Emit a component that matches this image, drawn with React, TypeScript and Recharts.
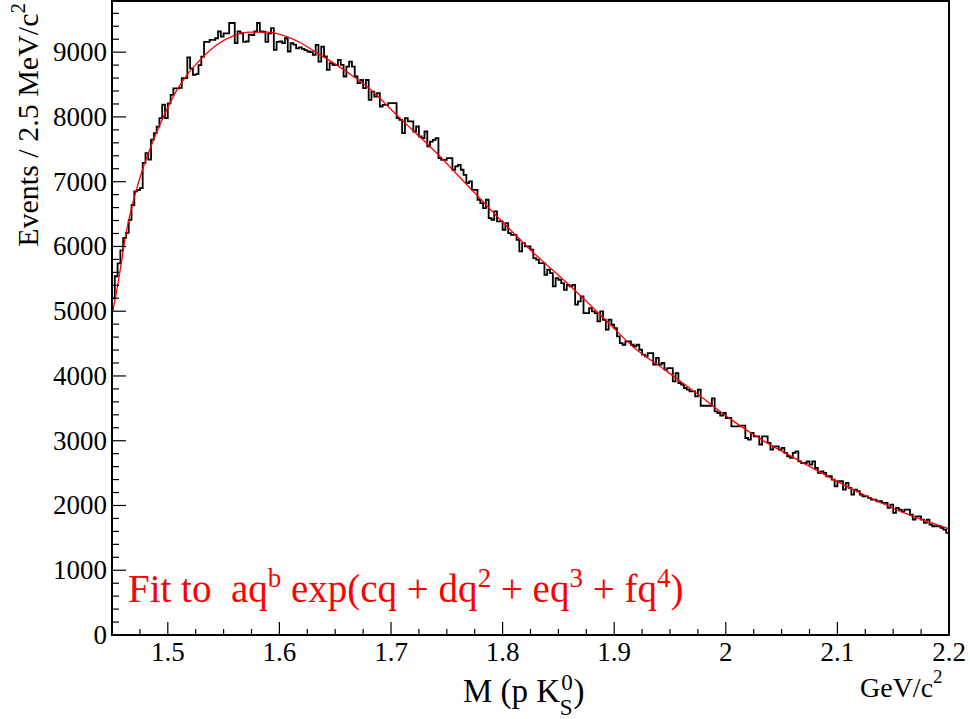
import React from "react";
import { LineChart, Line, XAxis, YAxis } from "recharts";

// Histogram: M(p K0S), 300 bins of 2.5 MeV/c^2 from 1.45 to 2.2 GeV/c^2
const BIN_START = 1.45;
const BIN_WIDTH = 0.0025;
const counts: number[] = [
  5200, 5540, 5740, 5940, 6130, 6210, 6410, 6640, 6850, 6870,
  6900, 7290, 7440, 7340, 7650, 7750, 7850, 7980, 8190, 7980,
  8210, 8340, 8440, 8440, 8450, 8600, 8600, 8920, 8750, 8650,
  8660, 8800, 8930, 9160, 9160, 9190, 9190, 9215, 9320, 9240,
  9290, 9290, 9450, 9450, 9140, 9320, 9290, 9160, 9165, 9270,
  9265, 9320, 9450, 9320, 9315, 9160, 9290, 9370, 9035, 9160,
  9165, 9140, 9215, 9010, 9140, 9115, 9060, 9075, 9050, 9030,
  9010, 9000, 8958, 9113, 8855, 9087, 8933, 8727, 8830, 8804,
  8800, 8880, 8804, 8624, 8778, 8855, 8778, 8624, 8521, 8570,
  8444, 8570, 8264, 8392, 8315, 8367, 8161, 8187, 8187, 8212,
  8212, 8212, 7981, 7955, 7749, 7981, 7930, 7930, 7775, 7852,
  7698, 7672, 7775, 7544, 7620, 7646, 7672, 7364, 7338, 7338,
  7364, 7364, 7184, 7235, 7260, 7184, 7106, 6978, 7004, 6875,
  6875, 6721, 6669, 6592, 6721, 6438, 6412, 6540, 6386, 6386,
  6258, 6360, 6206, 6180, 6180, 6103, 5923, 6050, 6000, 6000,
  5950, 5820, 5795, 5743, 5743, 5563, 5640, 5588, 5383, 5511,
  5486, 5434, 5331, 5408, 5383, 5408, 5100, 5151, 5228, 4971,
  4971, 5048, 4997, 4971, 4842, 4997, 4868, 4714, 4868, 4791,
  4740, 4611, 4508, 4482, 4534, 4534, 4482, 4457, 4482, 4405,
  4328, 4302, 4354, 4354, 4174, 4277, 4174, 4200, 4097, 4122,
  4122, 3917, 4045, 3891, 3865, 3814, 3788, 3763, 3763, 3685,
  3788, 3540, 3540, 3540, 3540, 3655, 3454, 3428, 3387, 3428,
  3351, 3351, 3222, 3222, 3222, 3233, 3233, 3042, 3016, 3119,
  3068, 3068, 2939, 3068, 3068, 2965, 2862, 2913, 2913, 2862,
  2888, 2811, 2760, 2734, 2811, 2837, 2682, 2656, 2656, 2682,
  2631, 2682, 2579, 2502, 2528, 2502, 2451, 2451, 2400, 2297,
  2374, 2374, 2245, 2348, 2271, 2168, 2245, 2220, 2168, 2142,
  2142, 2116, 2091, 2091, 2065, 2065, 2039, 2039, 1962, 2014,
  1885, 1962, 1936, 1910, 1936, 1936, 1859, 1782, 1833, 1833,
  1782, 1730, 1782, 1705, 1679, 1679, 1679, 1653, 1628, 1576,
];

// Fit curve values
const fitX: number[] = [
  1.4503, 1.4533, 1.4574, 1.462, 1.4694, 1.4783, 1.4873, 1.4962, 1.5082,
  1.5172, 1.529, 1.544, 1.559, 1.574, 1.589, 1.604, 1.619, 1.634, 1.6486,
  1.662, 1.6785, 1.708, 1.738, 1.768, 1.798, 1.8278, 1.8577, 1.8875,
  1.9174, 1.9473, 1.977, 2.007, 2.0369, 2.0668, 2.0966, 2.1265, 2.1564,
  2.1862, 2.2,
];
const fitY: number[] = [
  4970, 5230, 5640, 6150, 6720, 7235, 7647, 8006, 8418,
  8650, 8880, 9113, 9256, 9309, 9309, 9256, 9145, 8985, 8830,
  8676, 8469, 7981, 7492, 6952, 6412, 5900, 5435, 4946,
  4445, 4071, 3690, 3299, 2966, 2682, 2400, 2142, 1910,
  1720, 1640,
];

const xTicks: number[] = [
  1.45, 1.475, 1.5, 1.525, 1.55, 1.575, 1.6, 1.625, 1.65, 1.675, 1.7,
  1.725, 1.75, 1.775, 1.8, 1.825, 1.85, 1.875, 1.9, 1.925, 1.95, 1.975,
  2.0, 2.025, 2.05, 2.075, 2.1, 2.125, 2.15, 2.175, 2.2,
];
const yTicks: number[] = [
  0, 200, 400, 600, 800, 1000, 1200, 1400, 1600, 1800, 2000, 2200, 2400,
  2600, 2800, 3000, 3200, 3400, 3600, 3800, 4000, 4200, 4400, 4600, 4800,
  5000, 5200, 5400, 5600, 5800, 6000, 6200, 6400, 6600, 6800, 7000, 7200,
  7400, 7600, 7800, 8000, 8200, 8400, 8600, 8800, 9000, 9200, 9400, 9600,
];

const histData = counts
  .map((c, i) => ({ x: BIN_START + i * BIN_WIDTH, y: c }))
  .concat([{ x: BIN_START + counts.length * BIN_WIDTH, y: counts[counts.length - 1] }]);
const fitData = fitX.map((x, i) => ({ x, y: fitY[i] }));

const FONT =
  "'Liberation Serif', 'Times New Roman', Times, 'Noto Serif', 'DejaVu Serif', FreeSerif, serif";
const W = 970;
const H = 719;
const PLOT_LEFT = 112;
const PLOT_TOP = 1;
const PLOT_RIGHT = 949;
const PLOT_BOTTOM = 635;

const XTick = (props: any) => {
  const { x, y, payload } = props;
  const v = payload.value as number;
  const major = Math.abs(v * 10 - Math.round(v * 10)) < 1e-6 && v > 1.46;
  return (
    <g>
      <line x1={x} x2={x} y1={y} y2={y - (major ? 13 : 6)} stroke="#000" strokeWidth={1.2} />
      {major && (
        <text x={x} y={y + 26} textAnchor="middle" fontSize={27} fontFamily={FONT} fill="#000">
          {String(Math.round(v * 10) / 10)}
        </text>
      )}
    </g>
  );
};

const YTick = (props: any) => {
  const { x, y, payload } = props;
  const v = payload.value as number;
  const major = v % 1000 === 0;
  return (
    <g>
      <line x1={x} x2={x + (major ? 14 : 7)} y1={y} y2={y} stroke="#000" strokeWidth={1.2} />
      {major && (
        <text x={x - 5} y={y + 9} textAnchor="end" fontSize={27} fontFamily={FONT} fill="#000">
          {String(v)}
        </text>
      )}
    </g>
  );
};

export default function App() {
  return (
    <div style={{ position: "absolute", left: 0, top: 0, width: W, height: H, background: "#fff" }}>
      <LineChart
        width={W}
        height={H}
        margin={{ top: PLOT_TOP, right: W - PLOT_RIGHT, bottom: 0, left: 0 }}
      >
        <XAxis
          type="number"
          dataKey="x"
          domain={[1.45, 2.2]}
          allowDataOverflow
          ticks={xTicks}
          interval={0}
          tickSize={0}
          tickMargin={0}
          tickLine={false}
          axisLine={false}
          height={H - PLOT_BOTTOM}
          tick={(p: any) => <XTick {...p} />}
        />
        <YAxis
          type="number"
          domain={[0, 9790]}
          allowDataOverflow
          ticks={yTicks}
          interval={0}
          tickSize={0}
          tickMargin={0}
          tickLine={false}
          axisLine={false}
          width={PLOT_LEFT}
          tick={(p: any) => <YTick {...p} />}
        />
        <Line
          data={histData}
          dataKey="y"
          type="stepAfter"
          stroke="#000"
          strokeWidth={1.8}
          dot={false}
          activeDot={false}
          isAnimationActive={false}
        />
        <Line
          data={fitData}
          dataKey="y"
          type="monotone"
          stroke="#ff0000"
          strokeWidth={1.3}
          dot={false}
          activeDot={false}
          isAnimationActive={false}
        />
      </LineChart>
      <svg
        width={W}
        height={H}
        style={{ position: "absolute", left: 0, top: 0, pointerEvents: "none" }}
      >
        <rect
          x={PLOT_LEFT}
          y={PLOT_TOP}
          width={PLOT_RIGHT - PLOT_LEFT}
          height={PLOT_BOTTOM - PLOT_TOP}
          fill="none"
          stroke="#000"
          strokeWidth={2}
        />
        <text
          x={128}
          y={602}
          fontSize={39}
          fontFamily={FONT}
          fill="#ff0000"
          style={{ whiteSpace: "pre" }}
        >
          {"Fit to  aq"}
          <tspan dy={-15} fontSize={27}>b</tspan>
          <tspan dy={15}>{" exp(cq + dq"}</tspan>
          <tspan dy={-15} fontSize={27}>2</tspan>
          <tspan dy={15}>{" + eq"}</tspan>
          <tspan dy={-15} fontSize={27}>3</tspan>
          <tspan dy={15}>{" + fq"}</tspan>
          <tspan dy={-15} fontSize={27}>4</tspan>
          <tspan dy={15}>)</tspan>
        </text>
        <text x={463} y={702} fontSize={33} fontFamily={FONT} fill="#000" style={{ whiteSpace: "pre" }}>
          {"M (p K"}
          <tspan dx={1} dy={-12} fontSize={23}>0</tspan>
          <tspan dx={-13} dy={25} fontSize={23}>S</tspan>
          <tspan dx={1} dy={-13}>)</tspan>
        </text>
        <text x={860} y={697} fontSize={28} fontFamily={FONT} fill="#000">
          GeV/c
          <tspan dy={-14} fontSize={19}>2</tspan>
        </text>
        <text
          transform="translate(38, 3) rotate(-90)"
          textAnchor="end"
          fontSize={30}
          fontFamily={FONT}
          fill="#000"
        >
          Events / 2.5 MeV/c
          <tspan dy={-13} fontSize={21}>2</tspan>
        </text>
      </svg>
    </div>
  );
}
